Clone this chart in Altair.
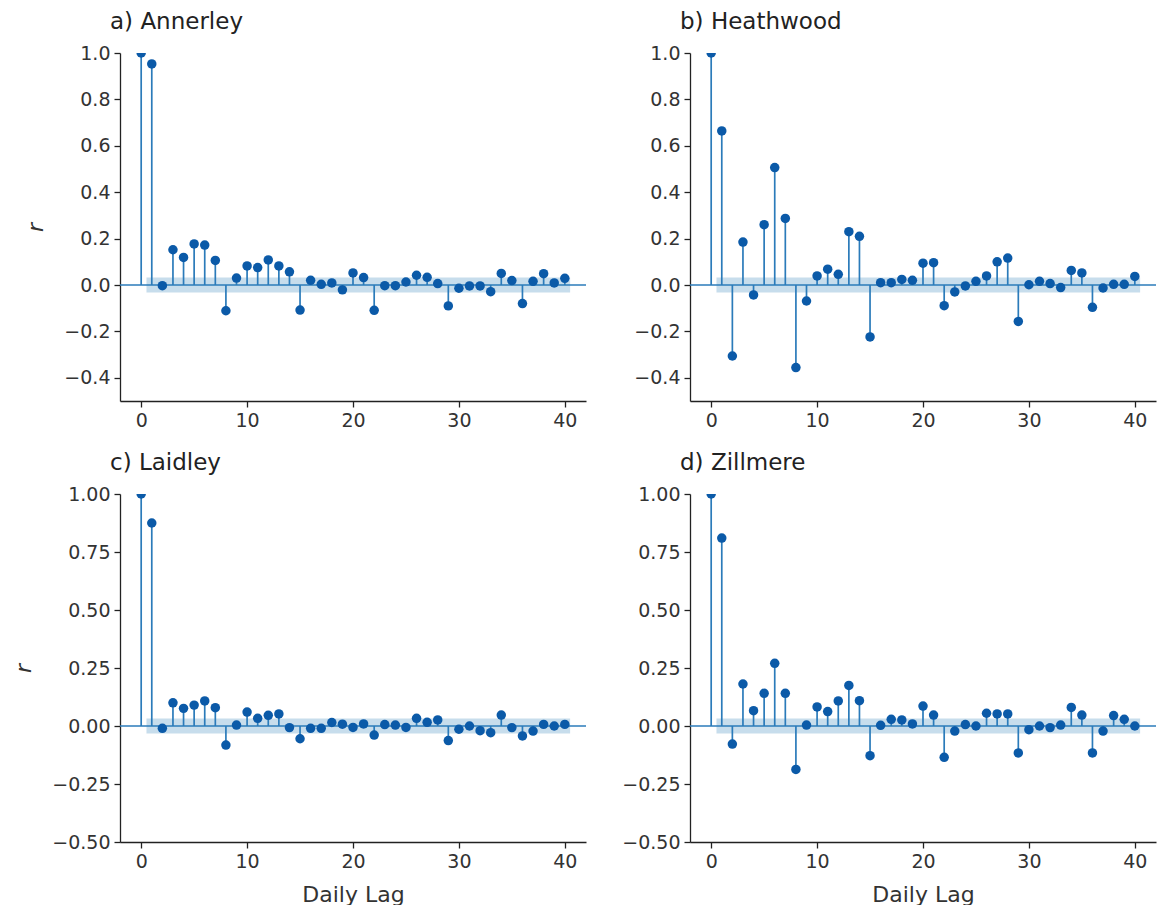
import altair as alt
import pandas as pd

lags = list(range(41))

r_annerley = [1.0, 0.953, -0.003, 0.152, 0.119, 0.177, 0.172, 0.106, -0.111, 0.030,
              0.082, 0.075, 0.108, 0.082, 0.057, -0.108, 0.020, 0.003, 0.009, -0.021,
              0.052, 0.032, -0.109, -0.003, -0.003, 0.013, 0.042, 0.033, 0.006, -0.090,
              -0.014, -0.004, -0.004, -0.029, 0.050, 0.019, -0.080, 0.016, 0.049, 0.009, 0.029]
r_heathwood = [1.0, 0.664, -0.306, 0.185, -0.043, 0.260, 0.506, 0.287, -0.356, -0.069,
               0.039, 0.068, 0.046, 0.230, 0.210, -0.224, 0.010, 0.010, 0.024, 0.020,
               0.094, 0.096, -0.089, -0.030, -0.004, 0.016, 0.039, 0.100, 0.116, -0.157,
               0.001, 0.016, 0.006, -0.011, 0.063, 0.052, -0.096, -0.013, 0.003, 0.003, 0.037]
r_laidley = [1.0, 0.875, -0.010, 0.100, 0.076, 0.090, 0.108, 0.079, -0.082, 0.004,
             0.060, 0.033, 0.046, 0.052, -0.007, -0.055, -0.010, -0.010, 0.015, 0.008,
             -0.006, 0.009, -0.039, 0.006, 0.004, -0.006, 0.033, 0.016, 0.026, -0.063,
             -0.014, 0.000, -0.020, -0.029, 0.047, -0.007, -0.043, -0.022, 0.007, 0.000, 0.007]
r_zillmere = [1.0, 0.810, -0.078, 0.181, 0.066, 0.141, 0.270, 0.141, -0.187, 0.004,
              0.082, 0.062, 0.108, 0.175, 0.109, -0.128, 0.003, 0.029, 0.026, 0.009,
              0.086, 0.047, -0.135, -0.022, 0.006, 0.000, 0.055, 0.052, 0.052, -0.116,
              -0.016, 0.000, -0.007, 0.004, 0.080, 0.047, -0.116, -0.022, 0.045, 0.029, 0.000]

titles = ["a) Annerley", "b) Heathwood", "c) Laidley", "d) Zillmere"]
series = [r_annerley, r_heathwood, r_laidley, r_zillmere]

band_lo = [-0.032]
band_hi = [0.032]
band_start = [0.5]
band_end = [40.5]

FONT = "DejaVu Sans"
STEM = "#2b7bba"
DOT = "#0b5aa8"
BAND = "#1f77b4"

W, H = 466, 348


def panel(title, vals, top_row, left_col):
    df = pd.DataFrame({"lag": lags, "r": vals, "zero": [0.0] * len(lags)})
    bdf = pd.DataFrame({"x": band_start, "x2": band_end, "lo": band_lo, "hi": band_hi})

    if top_row:
        yvals = [-0.4, -0.2, 0.0, 0.2, 0.4, 0.6, 0.8, 1.0]
        yfmt = ".1f"
    else:
        yvals = [-0.5, -0.25, 0.0, 0.25, 0.5, 0.75, 1.0]
        yfmt = ".2f"

    xscale = alt.Scale(domain=[-2, 42], nice=False, zero=False)
    yscale = alt.Scale(domain=[-0.5, 1.0], nice=False, zero=False)

    xaxis = alt.Axis(values=[0, 10, 20, 30, 40], format="d",
                     title="Daily Lag" if not top_row else None)
    yaxis = alt.Axis(values=yvals, format=yfmt,
                     title="r" if left_col else None)

    band = alt.Chart(bdf).mark_rect(color=BAND, opacity=0.25).encode(
        x=alt.X("x:Q", scale=xscale, axis=xaxis),
        x2="x2:Q",
        y=alt.Y("lo:Q", scale=yscale, axis=yaxis),
        y2="hi:Q",
    )
    zero = alt.Chart(bdf).mark_rule(color=STEM, strokeWidth=1.5).encode(
        y=alt.datum(0.0, scale=yscale),
    )
    stems = alt.Chart(df).mark_rule(color=STEM, strokeWidth=1.7, clip=True).encode(
        x=alt.X("lag:Q", scale=xscale),
        y=alt.Y("zero:Q", scale=yscale),
        y2="r:Q",
    )
    dots = alt.Chart(df).mark_circle(color=DOT, opacity=1, size=90, clip=True).encode(
        x=alt.X("lag:Q", scale=xscale),
        y=alt.Y("r:Q", scale=yscale),
    )
    return alt.layer(band, zero, stems, dots).properties(
        width=W, height=H,
        title=alt.TitleParams(title, anchor="start", frame="group", fontSize=23,
                              font=FONT, fontWeight="normal", color="#222222",
                              dx=-10, offset=10),
    )


a = panel(titles[0], series[0], True, True)
b = panel(titles[1], series[1], True, False)
c = panel(titles[2], series[2], False, True)
d = panel(titles[3], series[3], False, False)

chart = alt.concat(a, b, c, d, columns=2, spacing={"row": 22, "column": 34}).properties(
    padding={"left": 12, "top": 11, "right": 0, "bottom": 0},
).configure_view(stroke=None).configure_axis(
    grid=False,
    domainColor="#222222",
    domainWidth=1.3,
    tickColor="#222222",
    tickSize=6,
    tickWidth=1.3,
    labelFont=FONT,
    labelFontSize=19,
    labelColor="#333333",
    labelPadding=4,
    titleFont=FONT,
    titleFontSize=22,
    titleFontWeight="normal",
    titleColor="#333333",
).configure_axisY(
    titleFontStyle="italic",
    titlePadding=16,
).configure_axisX(
    titlePadding=13,
)

chart.save("out.html", embed_options={"renderer": "svg", "actions": False})
